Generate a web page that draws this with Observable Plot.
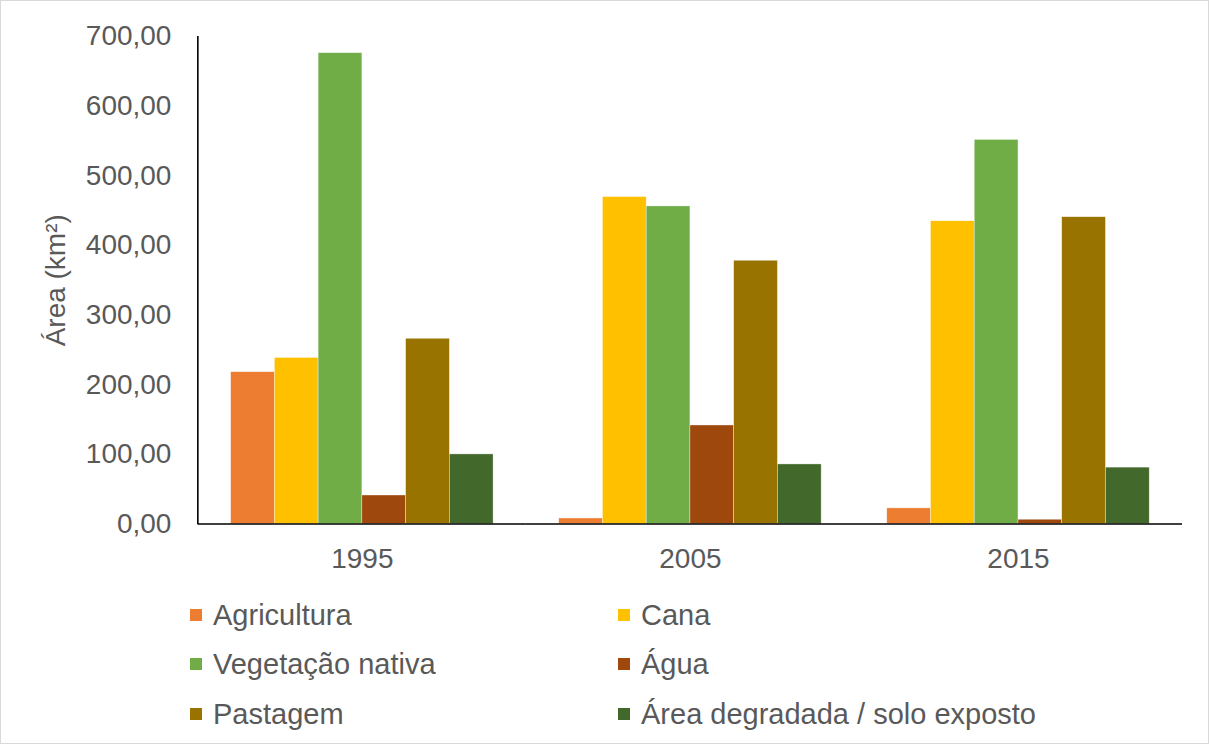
<!DOCTYPE html>
<html>
<head>
<meta charset="utf-8">
<script src="https://cdn.jsdelivr.net/npm/d3@7"></script>
<script src="https://cdn.jsdelivr.net/npm/@observablehq/plot@0.6"></script>
<style>
  html, body { margin: 0; padding: 0; background: #fff; }
  #wrap { position: relative; width: 1209px; height: 744px; box-sizing: border-box; border: 1px solid #d9d9d9; overflow: hidden; font-family: "Liberation Sans", Arial, sans-serif; }
  #chart { position: absolute; left: -1px; top: -1px; }
  #legend { position: absolute; left: 0; top: 0; width: 1209px; }
  .item { position: absolute; display: flex; align-items: center; font-size: 29px; color: #595959; white-space: nowrap; height: 34px; }
  .sw { width: 12px; height: 12px; margin-right: 11px; }
</style>
</head>
<body>
<div id="wrap">
  <div id="chart"></div>
  <div id="legend"></div>
</div>
<script>
const years = ["1995", "2005", "2015"];
const categories = ["Agricultura", "Cana", "Vegetação nativa", "Água", "Pastagem", "Área degradada / solo exposto"];
const colors = ["#ED7D31", "#FFC000", "#70AD47", "#9E480E", "#997300", "#43682B"];
const agricultura = [218, 8, 22.5];
const cana = [238.5, 469.5, 434.7];
const vegetacao = [676, 456, 551.5];
const agua = [41, 141.5, 6.2];
const pastagem = [266, 378, 440.5];
const degradada = [100, 85.6, 81];
const yTicks = [0, 100, 200, 300, 400, 500, 600, 700];

const series = [agricultura, cana, vegetacao, agua, pastagem, degradada];
const data = years.flatMap((yr, i) => categories.map((c, j) => ({year: yr, cat: c, value: series[j][i]})));

const fmt = d => d.toFixed(2).replace(".", ",");
const marginLeft = 198, marginTop = 36, marginBottom = 65;

const plot = Plot.plot({
  width: 1209,
  height: 589,
  marginTop,
  marginBottom,
  marginLeft,
  marginRight: 26,
  style: {fontFamily: "Liberation Sans, Arial, sans-serif", color: "#595959", background: "transparent"},
  fx: {domain: years, padding: 0, round: false},
  x: {domain: categories, paddingInner: 0, paddingOuter: 0.75, round: false, axis: null},
  y: {domain: [0, 700]},
  color: {domain: categories, range: colors},
  marks: [
    Plot.barY(data, {fx: "year", x: "cat", y: "value", fill: "cat", stroke: "#ffffff", strokeOpacity: 0.6, strokeWidth: 0.6}),
    Plot.ruleY([0], {stroke: "#000", strokeWidth: 1.6}),
    Plot.axisY({ticks: yTicks, tickFormat: fmt, tickSize: 0, tickPadding: 27, fontSize: 28,
      label: "Área (km²)", labelAnchor: "center", labelOffset: 153, labelArrow: "none"}),
    Plot.axisFx({anchor: "bottom", tickSize: 0, tickPadding: 24, fontSize: 28, label: null})
  ]
});
document.getElementById("chart").appendChild(plot);

// left axis line, drawn with the plot's own y scale
const ys = plot.scale("y");
d3.select(plot).append("line")
  .attr("x1", marginLeft).attr("x2", marginLeft)
  .attr("y1", ys.apply(700)).attr("y2", ys.apply(0) + 0.8)
  .attr("stroke", "#000").attr("stroke-width", 1.6);

// legend
const legend = document.getElementById("legend");
const colX = [189, 617];
const rowY = [614, 663, 713];
categories.forEach((c, i) => {
  const it = document.createElement("div");
  it.className = "item";
  it.style.left = colX[i % 2] + "px";
  it.style.top = (rowY[Math.floor(i / 2)] - 17) + "px";
  const sw = document.createElement("span");
  sw.className = "sw";
  sw.style.background = colors[i];
  it.appendChild(sw);
  const t = document.createElement("span");
  t.textContent = c;
  it.appendChild(t);
  legend.appendChild(it);
});
</script>
</body>
</html>
